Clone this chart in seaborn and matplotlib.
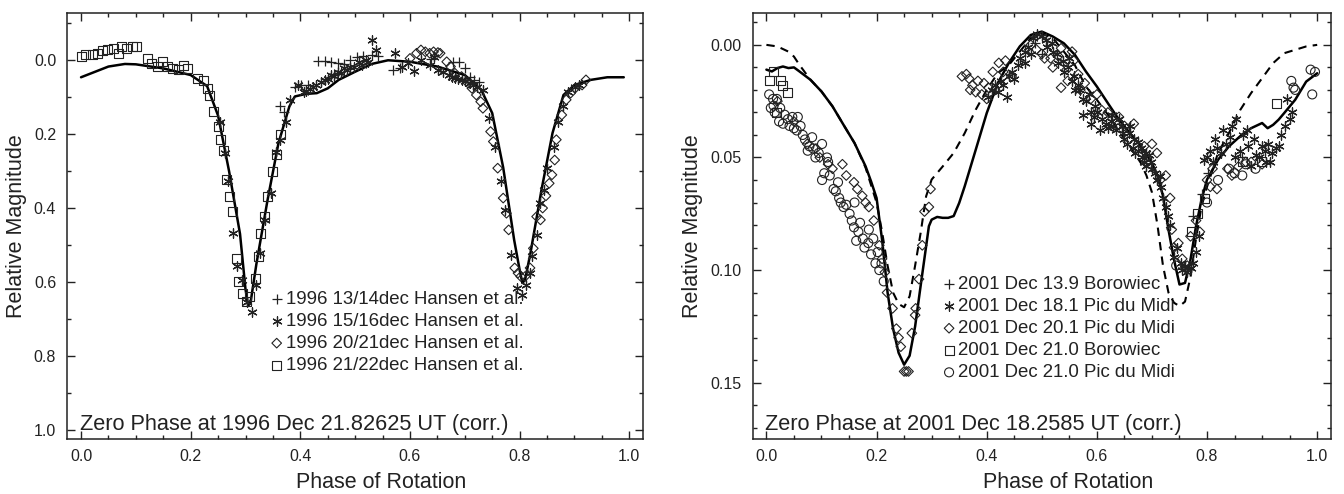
import seaborn as sns
import matplotlib.pyplot as plt
import pandas as pd
from matplotlib.ticker import MultipleLocator

# ---------------- left panel (1996) ----------------
model96_x = [0.0, 0.05, 0.08, 0.1, 0.15, 0.2, 0.22, 0.23, 0.25, 0.27, 0.29, 0.3, 0.305, 0.31, 0.32,
             0.34, 0.36, 0.38, 0.39, 0.41, 0.43, 0.45, 0.47, 0.5, 0.53, 0.56, 0.6, 0.65, 0.7, 0.73,
             0.75, 0.77, 0.79, 0.8, 0.805, 0.81, 0.82, 0.84, 0.86, 0.88, 0.9, 0.93, 0.96, 0.99]
model96_y = [0.046, 0.017, 0.010, 0.011, 0.022, 0.040, 0.060, 0.070, 0.150, 0.300, 0.470, 0.620, 0.665,
             0.648, 0.550, 0.380, 0.225, 0.125, 0.098, 0.091, 0.089, 0.076, 0.053, 0.031, 0.010, 0.0,
             0.004, 0.017, 0.040, 0.080, 0.143, 0.290, 0.486, 0.567, 0.603, 0.594, 0.520, 0.350, 0.197,
             0.094, 0.067, 0.053, 0.046, 0.046]

plus96_x = [0.363, 0.371, 0.39, 0.402, 0.414, 0.433, 0.445, 0.456, 0.468, 0.48, 0.491, 0.503, 0.515,
            0.53, 0.542, 0.569, 0.581, 0.639, 0.678, 0.69, 0.701, 0.709, 0.717, 0.725]
plus96_y = [0.124, 0.139, 0.071, 0.067, 0.067, 0.002, 0.001, 0.004, 0.008, 0.010, -0.001, -0.010, -0.012,
            -0.014, -0.012, 0.026, 0.022, -0.003, 0.006, 0.004, 0.022, 0.044, 0.053, 0.058]

ast96_x = [0.254, 0.262, 0.268, 0.277, 0.285, 0.293, 0.303, 0.311, 0.319, 0.327, 0.336, 0.347, 0.355,
           0.363, 0.373, 0.382, 0.396, 0.406, 0.417, 0.429, 0.445, 0.456, 0.468, 0.48, 0.491, 0.507,
           0.519, 0.53, 0.538, 0.573, 0.585, 0.597, 0.607, 0.62, 0.636, 0.643, 0.651, 0.671, 0.682,
           0.694, 0.709, 0.733, 0.745, 0.756, 0.766, 0.774, 0.784, 0.795, 0.805, 0.811, 0.819, 0.823,
           0.831, 0.838, 0.844, 0.85, 0.862, 0.87, 0.88, 0.889, 0.901, 0.908,
           0.41, 0.423, 0.437, 0.45, 0.462, 0.474, 0.486, 0.498, 0.512, 0.524, 0.66, 0.676, 0.688,
           0.7, 0.715, 0.722]
ast96_y = [0.166, 0.252, 0.328, 0.468, 0.558, 0.594, 0.653, 0.680, 0.608, 0.522, 0.432, 0.360, 0.248,
           0.216, 0.166, 0.107, 0.067, 0.085, 0.078, 0.067, 0.053, 0.040, 0.031, 0.022, 0.017, 0.004,
           -0.001, -0.055, -0.028, -0.019, 0.017, 0.008, 0.028, -0.001, 0.013, -0.010, 0.026, 0.040,
           0.049, 0.053, 0.062, 0.080, 0.157, 0.234, 0.328, 0.405, 0.527, 0.617, 0.635, 0.608, 0.576,
           0.531, 0.473, 0.387, 0.351, 0.292, 0.234, 0.166, 0.125, 0.085, 0.073, 0.067,
           0.082, 0.072, 0.060, 0.050, 0.043, 0.034, 0.025, 0.018, 0.012, 0.006, 0.033, 0.045, 0.051,
           0.057, 0.066, 0.072]

dia96_x = [0.6, 0.612, 0.62, 0.628, 0.636, 0.643, 0.651, 0.655, 0.667, 0.674, 0.682, 0.694, 0.706,
           0.713, 0.721, 0.729, 0.733, 0.747, 0.752, 0.76, 0.77, 0.776, 0.78, 0.791, 0.797, 0.802,
           0.81, 0.819, 0.825, 0.831, 0.838, 0.842, 0.848, 0.854, 0.859, 0.864, 0.867, 0.877, 0.885,
           0.893, 0.901, 0.914, 0.921]
dia96_y = [-0.005, -0.019, -0.028, -0.023, -0.019, -0.023, -0.021, -0.019, 0.004, 0.017, 0.035, 0.044,
           0.062, 0.076, 0.094, 0.112, 0.130, 0.193, 0.220, 0.292, 0.373, 0.414, 0.459, 0.562, 0.576,
           0.585, 0.585, 0.562, 0.509, 0.423, 0.432, 0.400, 0.367, 0.333, 0.310, 0.270, 0.215, 0.148,
           0.107, 0.089, 0.076, 0.067, 0.053]

sq96_x = [0.001, 0.009, 0.02, 0.03, 0.04, 0.049, 0.059, 0.069, 0.073, 0.083, 0.093, 0.102, 0.121, 0.129,
          0.139, 0.149, 0.158, 0.167, 0.178, 0.186, 0.195, 0.213, 0.223, 0.23, 0.234, 0.242, 0.25, 0.254,
          0.259, 0.266, 0.271, 0.276, 0.283, 0.287, 0.295, 0.301, 0.308, 0.318, 0.324, 0.328, 0.334,
          0.34, 0.35, 0.357, 0.363]
sq96_y = [-0.010, -0.016, -0.016, -0.019, -0.026, -0.030, -0.032, -0.019, -0.037, -0.031, -0.037, -0.037,
          -0.005, 0.008, 0.017, 0.004, 0.017, 0.022, 0.026, 0.013, 0.022, 0.049, 0.056, 0.076, 0.094,
          0.139, 0.180, 0.215, 0.243, 0.324, 0.369, 0.409, 0.536, 0.599, 0.630, 0.653, 0.639, 0.590,
          0.531, 0.468, 0.423, 0.369, 0.301, 0.256, 0.202]

# ---------------- right panel (2001) ----------------
solid01_x = [0.0, 0.01, 0.02, 0.03, 0.04, 0.05, 0.06, 0.08, 0.1, 0.12, 0.14, 0.16, 0.18, 0.19, 0.2, 0.21,
             0.215, 0.22, 0.23, 0.24, 0.25, 0.26, 0.27, 0.28, 0.29, 0.295, 0.3, 0.31, 0.32, 0.33, 0.34,
             0.35, 0.36, 0.38, 0.4, 0.42, 0.44, 0.46, 0.48, 0.5, 0.52, 0.54, 0.56, 0.58, 0.6, 0.62, 0.64,
             0.66, 0.68, 0.7, 0.71, 0.72, 0.73, 0.74, 0.75, 0.76, 0.77, 0.78, 0.79, 0.8, 0.82, 0.84,
             0.86, 0.88, 0.9, 0.91, 0.92, 0.93, 0.94, 0.96, 0.98, 1.0]
solid01_y = [0.0110, 0.0118, 0.0103, 0.0096, 0.0103, 0.0100, 0.0118, 0.0155, 0.0207, 0.0273, 0.0355,
             0.0436, 0.0539, 0.0606, 0.0680, 0.0865, 0.0980, 0.1100, 0.1260, 0.1367, 0.1420, 0.1380,
             0.1250, 0.1070, 0.0894, 0.0805, 0.0776, 0.0764, 0.0768, 0.0768, 0.0760, 0.0702, 0.0628,
             0.0466, 0.0303, 0.0170, 0.0081, 0.0007, -0.0044, -0.0059, -0.0037, -0.0007, 0.0044,
             0.0118, 0.0185, 0.0259, 0.0332, 0.0392, 0.0450, 0.0525, 0.0580, 0.0670, 0.0820, 0.0953,
             0.1064, 0.1057, 0.0953, 0.0805, 0.0687, 0.0598, 0.0510, 0.0450, 0.0406, 0.0370, 0.0347,
             0.0370, 0.0355, 0.0332, 0.0303, 0.0244, 0.0163, 0.0126]

dash01_x = [0.0, 0.02, 0.04, 0.05, 0.06, 0.08, 0.1, 0.12, 0.14, 0.16, 0.18, 0.2, 0.21, 0.22, 0.23, 0.24,
            0.25, 0.26, 0.27, 0.28, 0.29, 0.3, 0.32, 0.34, 0.36, 0.38, 0.4, 0.42, 0.44, 0.46, 0.48, 0.5,
            0.52, 0.54, 0.56, 0.58, 0.6, 0.62, 0.64, 0.66, 0.68, 0.69, 0.7, 0.71, 0.72, 0.73, 0.74, 0.75,
            0.76, 0.77, 0.78, 0.79, 0.8, 0.82, 0.84, 0.86, 0.88, 0.9, 0.92, 0.94, 0.96, 0.98, 1.0]
dash01_y = [0.0, 0.0007, 0.0030, 0.0052, 0.0089, 0.0155, 0.0207, 0.0273, 0.0355, 0.0436, 0.0545, 0.0700,
            0.0830, 0.0980, 0.1100, 0.1150, 0.1165, 0.1116, 0.0980, 0.0835, 0.0672, 0.0598, 0.0540,
            0.0480, 0.0392, 0.0288, 0.0200, 0.0126, 0.0090, 0.0030, -0.0030, -0.0050, -0.0030, 0.0030,
            0.0090, 0.0185, 0.0244, 0.0310, 0.0384, 0.0450, 0.0525, 0.0580, 0.0655, 0.0800, 0.0980,
            0.1100, 0.1145, 0.1160, 0.1140, 0.1030, 0.0860, 0.0717, 0.0630, 0.0480, 0.0390, 0.0290,
            0.0214, 0.0148, 0.0081, 0.0037, 0.0022, 0.0007, 0.0]

plus01_x = [0.488, 0.5, 0.775, 0.791, 0.802, 0.864]
plus01_y = [-0.001, 0.004, 0.076, 0.066, 0.057, 0.050]

ast01_x = [0.403, 0.415, 0.426, 0.436, 0.446, 0.457, 0.469, 0.484, 0.492, 0.508, 0.519, 0.527, 0.539,
           0.547, 0.558, 0.57, 0.574, 0.581, 0.589, 0.597, 0.605, 0.616, 0.628, 0.64, 0.647, 0.659,
           0.667, 0.674, 0.682, 0.69, 0.698, 0.705, 0.717, 0.725, 0.733, 0.74, 0.752, 0.76, 0.764,
           0.775, 0.795, 0.806, 0.818, 0.829, 0.841, 0.853, 0.86, 0.872, 0.88, 0.888, 0.899, 0.907,
           0.918, 0.93, 0.942, 0.946, 0.95,
           0.41, 0.42, 0.43, 0.44, 0.45, 0.46, 0.47, 0.475, 0.48, 0.5, 0.51, 0.52, 0.53, 0.54, 0.55,
           0.555, 0.56, 0.565, 0.575, 0.585, 0.59, 0.595, 0.6, 0.61, 0.62, 0.625, 0.63, 0.635, 0.645,
           0.65, 0.655, 0.66, 0.665, 0.67, 0.675, 0.68, 0.685, 0.69, 0.695, 0.7, 0.71, 0.715, 0.72,
           0.73, 0.745, 0.755, 0.77, 0.78, 0.785, 0.8, 0.81, 0.815, 0.825, 0.835, 0.845, 0.85, 0.865,
           0.875, 0.885, 0.895, 0.905, 0.91, 0.915, 0.925, 0.935, 0.955]
ast01_y = [0.023, 0.018, 0.016, 0.023, 0.012, 0.009, 0.003, -0.003, -0.005, -0.002, -0.001, 0.004, 0.007,
           0.010, 0.014, 0.020, 0.031, 0.025, 0.030, 0.027, 0.038, 0.035, 0.031, 0.033, 0.039, 0.039,
           0.042, 0.047, 0.050, 0.048, 0.052, 0.057, 0.063, 0.072, 0.080, 0.094, 0.097, 0.098, 0.101,
           0.097, 0.051, 0.047, 0.046, 0.038, 0.041, 0.033, 0.047, 0.038, 0.054, 0.049, 0.045, 0.052,
           0.048, 0.045, 0.036, 0.024, 0.033,
           0.020, 0.021, 0.018, 0.014, 0.015, 0.006, 0.008, 0.001, 0.004, -0.004, 0.001, 0.003, 0.008,
           0.012, 0.006, 0.016, 0.020, 0.018, 0.024, 0.022, 0.035, 0.032, 0.030, 0.033, 0.037, 0.034,
           0.036, 0.038, 0.036, 0.042, 0.044, 0.036, 0.046, 0.048, 0.043, 0.046, 0.052, 0.054, 0.049,
           0.055, 0.060, 0.058, 0.068, 0.076, 0.090, 0.100, 0.099, 0.092, 0.085, 0.050, 0.052, 0.042,
           0.048, 0.044, 0.036, 0.050, 0.040, 0.045, 0.042, 0.050, 0.047, 0.044, 0.052, 0.046, 0.040,
           0.030]

dia01_x = [0.074, 0.097, 0.112, 0.138, 0.159, 0.174, 0.186, 0.205, 0.215, 0.219, 0.229, 0.236, 0.244,
           0.25, 0.254, 0.258, 0.264, 0.271, 0.277, 0.283, 0.287, 0.295, 0.298, 0.363, 0.368, 0.374,
           0.384, 0.391, 0.403, 0.411, 0.422, 0.434, 0.5, 0.516, 0.535, 0.558, 0.535, 0.547, 0.566,
           0.578, 0.589, 0.609, 0.64, 0.667, 0.686, 0.709, 0.725, 0.733, 0.736, 0.748, 0.764, 0.787,
           0.806, 0.818, 0.837, 0.857, 0.88,
           0.02, 0.05, 0.09, 0.12, 0.145, 0.165, 0.18, 0.195, 0.21, 0.24, 0.27, 0.355, 0.37, 0.38,
           0.395, 0.4, 0.415, 0.43, 0.445, 0.48, 0.49, 0.505, 0.52, 0.53, 0.545, 0.555, 0.57, 0.6,
           0.62, 0.65, 0.69, 0.7, 0.715, 0.74, 0.755, 0.77, 0.78, 0.8, 0.81, 0.845, 0.87, 0.9]
dia01_y = [0.044, 0.050, 0.053, 0.053, 0.061, 0.067, 0.072, 0.089, 0.101, 0.110, 0.117, 0.126, 0.134,
           0.145, 0.145, 0.145, 0.128, 0.117, 0.104, 0.089, 0.074, 0.072, 0.064, 0.013, 0.015, 0.018,
           0.016, 0.022, 0.019, 0.012, 0.008, 0.007, 0.004, 0.006, 0.0015, 0.007, 0.019, 0.016, 0.013,
           0.017, 0.024, 0.029, 0.032, 0.035, 0.045, 0.048, 0.058, 0.068, 0.082, 0.088, 0.098, 0.083,
           0.063, 0.064, 0.055, 0.054, 0.052,
           0.025, 0.034, 0.046, 0.055, 0.058, 0.064, 0.070, 0.078, 0.095, 0.130, 0.120, 0.014, 0.020,
           0.021, 0.017, 0.024, 0.020, 0.012, 0.014, 0.000, 0.002, 0.006, 0.010, 0.005, 0.011, 0.003,
           0.020, 0.022, 0.030, 0.036, 0.050, 0.044, 0.060, 0.090, 0.095, 0.085, 0.078, 0.060, 0.055,
           0.058, 0.052, 0.053]

sq01_x = [0.005, 0.013, 0.019, 0.026, 0.029, 0.039, 0.771, 0.783, 0.795, 0.864, 0.899, 0.926]
sq01_y = [0.016, 0.012, 0.030, 0.016, 0.018, 0.021, 0.083, 0.075, 0.068, 0.052, 0.052, 0.026]

circ01_x = [0.005, 0.012, 0.013, 0.019, 0.023, 0.033, 0.039, 0.047, 0.05, 0.057, 0.062, 0.066, 0.078,
            0.083, 0.089, 0.101, 0.101, 0.112, 0.122, 0.126, 0.132, 0.14, 0.151, 0.159, 0.163, 0.167,
            0.178, 0.186, 0.194, 0.202, 0.209, 0.213, 0.744, 0.864, 0.888, 0.953, 0.957, 0.988, 0.991,
            0.996,
            0.008, 0.015, 0.025, 0.03, 0.042, 0.055, 0.07, 0.075, 0.085, 0.095, 0.105, 0.11, 0.115,
            0.13, 0.135, 0.145, 0.155, 0.16, 0.17, 0.175, 0.185, 0.19, 0.198, 0.205, 0.8, 0.82, 0.84,
            0.85, 0.87, 0.96]
circ01_y = [0.022, 0.024, 0.027, 0.024, 0.034, 0.031, 0.033, 0.032, 0.037, 0.032, 0.036, 0.040, 0.045,
            0.041, 0.050, 0.044, 0.060, 0.052, 0.064, 0.065, 0.068, 0.072, 0.075, 0.081, 0.087, 0.083,
            0.090, 0.082, 0.086, 0.092, 0.097, 0.105, 0.098, 0.058, 0.055, 0.016, 0.019, 0.011, 0.022,
            0.012,
            0.028, 0.030, 0.028, 0.035, 0.036, 0.038, 0.042, 0.047, 0.046, 0.048, 0.057, 0.050, 0.058,
            0.061, 0.070, 0.071, 0.078, 0.070, 0.079, 0.086, 0.088, 0.093, 0.097, 0.100, 0.070, 0.060,
            0.055, 0.057, 0.053, 0.020]

labels96 = ["1996 13/14dec Hansen et al.", "1996 15/16dec Hansen et al.",
            "1996 20/21dec Hansen et al.", "1996 21/22dec Hansen et al."]
labels01 = ["2001 Dec 13.9 Borowiec", "2001 Dec 18.1 Pic du Midi", "2001 Dec 20.1 Pic du Midi",
            "2001 Dec 21.0 Borowiec", "2001 Dec 21.0 Pic du Midi"]

sns.set_style("ticks")
plt.rcParams['font.family'] = ['Liberation Sans', 'DejaVu Sans']

INK = '#222222'
ASTER = (6, 2, 0)


def draw_points(ax, xs, ys, marker, label, size):
    df = pd.DataFrame({"phase": xs, "mag": ys})
    if marker in ('+', ASTER):
        sns.scatterplot(data=df, x="phase", y="mag", ax=ax, marker=marker, s=size,
                        color=INK, linewidth=0.9, label=label, zorder=3)
    else:
        sns.scatterplot(data=df, x="phase", y="mag", ax=ax, marker=marker, s=size,
                        facecolor='none', edgecolor=INK, linewidth=0.8, label=label, zorder=3)


def style_axes(ax, ymajor, yminor, zero_text):
    ax.set_xlim(-0.025, 1.025)
    ax.xaxis.set_major_locator(MultipleLocator(0.2))
    ax.xaxis.set_minor_locator(MultipleLocator(0.05))
    ax.yaxis.set_major_locator(MultipleLocator(ymajor))
    ax.yaxis.set_minor_locator(MultipleLocator(yminor))
    ax.tick_params(which='both', direction='in', top=True, right=True, colors=INK,
                   labelsize=11.5, width=1)
    ax.tick_params(axis='x', which='major', pad=7)
    ax.tick_params(axis='y', which='major', pad=8)
    ax.tick_params(which='major', length=6)
    ax.tick_params(which='minor', length=3)
    for sp in ax.spines.values():
        sp.set_linewidth(1.1)
        sp.set_color(INK)
    ax.set_xlabel("Phase of Rotation", fontsize=15.5, color=INK, x=0.545, labelpad=6)
    ax.set_ylabel("Relative Magnitude", fontsize=15.5, color=INK, labelpad=5)
    ax.text(0.022, 0.021, zero_text, transform=ax.transAxes, fontsize=15.7, color=INK,
            ha='left', va='baseline')


fig = plt.figure(figsize=(13.44, 4.94), dpi=100)
ax1 = fig.add_axes([0.0501, 0.1113, 0.4283, 0.8617])
ax2 = fig.add_axes([0.5600, 0.1113, 0.4303, 0.8617])

# left panel
sns.lineplot(x=model96_x, y=model96_y, ax=ax1, color='black', linewidth=1.8, sort=False)
draw_points(ax1, plus96_x, plus96_y, '+', labels96[0], 45)
draw_points(ax1, ast96_x, ast96_y, ASTER, labels96[1], 45)
draw_points(ax1, dia96_x, dia96_y, 'D', labels96[2], 24)
draw_points(ax1, sq96_x, sq96_y, 's', labels96[3], 42)
ax1.set_ylim(1.025, -0.127)
style_axes(ax1, 0.2, 0.1, "Zero Phase at 1996 Dec 21.82625 UT (corr.)")
ax1.yaxis.set_major_formatter(plt.FormatStrFormatter('%.1f'))
ax1.xaxis.set_major_formatter(plt.FormatStrFormatter('%.1f'))
ax1.legend(loc='upper left', bbox_to_anchor=(0.354, 0.348), frameon=False, fontsize=13.4,
           handlelength=0.6, handletextpad=0.2, borderpad=0, borderaxespad=0, labelspacing=0.27,
           labelcolor=INK)

# right panel
sns.lineplot(x=solid01_x, y=solid01_y, ax=ax2, color='black', linewidth=1.8, sort=False)
sns.lineplot(x=dash01_x, y=dash01_y, ax=ax2, color='black', linewidth=1.5, sort=False,
             dashes=False, linestyle=(0, (4, 3)))
draw_points(ax2, plus01_x, plus01_y, '+', labels01[0], 45)
draw_points(ax2, ast01_x, ast01_y, ASTER, labels01[1], 45)
draw_points(ax2, dia01_x, dia01_y, 'D', labels01[2], 24)
draw_points(ax2, sq01_x, sq01_y, 's', labels01[3], 42)
draw_points(ax2, circ01_x, circ01_y, 'o', labels01[4], 42)
ax2.set_ylim(0.175, -0.014)
style_axes(ax2, 0.05, 0.01, "Zero Phase at 2001 Dec 18.2585 UT (corr.)")
ax2.yaxis.set_major_formatter(plt.FormatStrFormatter('%.2f'))
ax2.xaxis.set_major_formatter(plt.FormatStrFormatter('%.1f'))
ax2.legend(loc='upper left', bbox_to_anchor=(0.33, 0.383), frameon=False, fontsize=13.4,
           handlelength=0.6, handletextpad=0.2, borderpad=0, borderaxespad=0, labelspacing=0.27,
           labelcolor=INK)

fig.savefig("out.png", dpi=100)
